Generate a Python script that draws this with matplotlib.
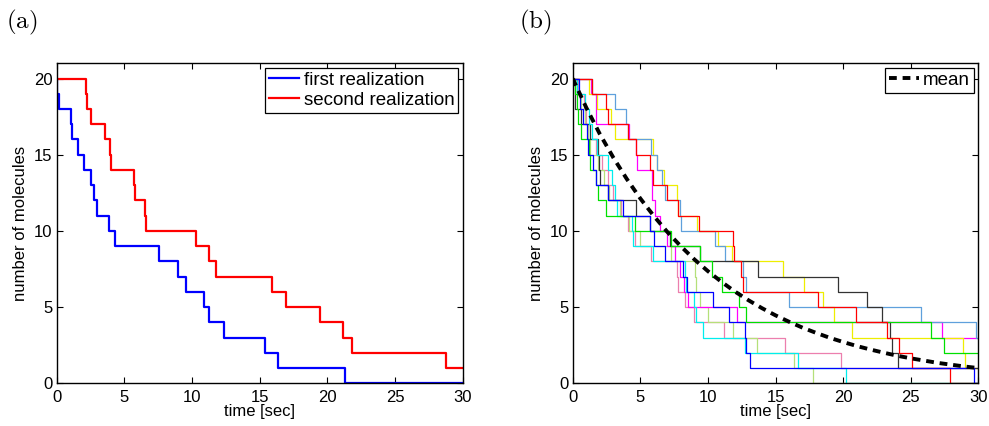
import matplotlib
matplotlib.use("Agg")
import matplotlib.pyplot as plt

plt.rcParams['font.family'] = ['Liberation Sans', 'DejaVu Sans']
plt.rcParams['mathtext.fontset'] = 'cm'

T_END = 30
N0 = 20

# ---- panel (a): jump times (each jump = one molecule lost)
first_realization = [0.02, 0.17, 1.03, 1.16, 1.60, 2.04, 2.51, 2.78, 3.00, 3.87,
                     4.29, 7.54, 8.94, 9.56, 10.86, 11.26, 12.36, 15.39, 16.38, 21.30]
second_realization = [2.17, 2.22, 2.51, 3.55, 3.97, 4.01, 5.71, 5.81, 6.55, 6.63,
                      10.32, 11.26, 11.80, 15.89, 16.95, 19.48, 21.16, 21.82, 28.74]

# ---- panel (b): ten realizations (jump times)
pink_b = [0.40, 0.80, 1.00, 1.30, 1.70, 2.20, 2.60, 3.00, 3.60, 4.10,
          4.60, 5.79, 7.70, 7.80, 8.30, 9.00, 11.21, 15.70, 19.85]
lightgreen_b = [0.30, 0.60, 0.90, 1.10, 1.30, 1.90, 2.30, 2.70, 3.50, 4.20,
                5.00, 7.30, 9.05, 9.10, 9.40, 10.00, 11.88, 13.60, 16.35, 17.80]
magenta_b = [1.33, 1.70, 1.72, 4.20, 4.70, 4.75, 5.84, 5.86, 6.09, 6.46,
             7.00, 7.60, 7.94, 8.20, 8.50, 12.18, 27.28]
yellow_b = [1.20, 1.78, 2.81, 3.13, 5.97, 6.21, 6.75, 7.70, 7.76, 9.17,
            10.77, 11.76, 15.53, 17.13, 18.50, 19.33, 20.68, 28.84, 29.04]
lightblue_b = [1.40, 3.13, 3.95, 4.10, 5.77, 6.21, 6.58, 6.83, 7.94, 8.00,
               10.52, 11.27, 12.60, 12.82, 16.00, 25.76, 29.80]
black_b = [0.17, 0.18, 0.60, 1.28, 1.90, 1.95, 2.00, 2.60, 4.68, 5.72,
           7.20, 9.42, 13.73, 19.60, 21.74, 22.90, 23.47, 23.60, 24.04]
cyan_b = [0.30, 0.91, 1.20, 1.40, 1.80, 2.60, 2.90, 3.10, 3.30, 4.40,
          4.44, 5.97, 8.30, 8.40, 9.00, 9.15, 9.66, 12.74, 16.70, 20.24]
green_b = [0.20, 0.30, 0.40, 0.60, 1.20, 1.30, 1.70, 1.90, 2.47, 4.60,
           7.30, 9.42, 10.28, 11.02, 12.33, 12.82, 26.50, 27.43]
red_b = [1.45, 2.44, 2.59, 4.12, 4.68, 5.72, 5.92, 7.00, 7.81, 9.37,
         11.88, 11.90, 12.43, 12.57, 18.17, 20.96, 23.22, 24.10, 25.07, 27.88]
blue_b = [0.50, 0.55, 0.74, 1.08, 1.10, 1.53, 1.73, 2.64, 3.75, 5.72,
          6.04, 6.83, 8.18, 8.48, 10.35, 11.58, 12.74, 12.80, 13.11, 29.70]

realizations_b = [pink_b, lightgreen_b, magenta_b, yellow_b, lightblue_b,
                  black_b, cyan_b, green_b, red_b, blue_b]
colors_b = ['#ec7fae', '#b5e07a', '#ff00ff', '#eeee00', '#5fa0dc',
            '#333333', '#00eeee', '#00e000', '#ff0000', '#0000ff']

# mean curve values
mean_t = list(range(0, 31))
mean_n = [20.0, 18.10, 16.37, 14.82, 13.41, 12.13, 10.98, 9.93, 8.99, 8.13, 7.36,
          6.66, 6.02, 5.45, 4.93, 4.46, 4.04, 3.65, 3.31, 2.99, 2.71,
          2.45, 2.22, 2.01, 1.81, 1.64, 1.49, 1.34, 1.22, 1.10, 1.00]

x_ticks = [0, 5, 10, 15, 20, 25, 30]
y_ticks = [0, 5, 10, 15, 20]


def steps(jumps):
    xs = [0.0] + list(jumps) + [T_END]
    ys = [N0 - i for i in range(len(jumps) + 1)]
    ys = ys + [ys[-1]]
    return xs, ys


fig = plt.figure(figsize=(9.89, 4.26), dpi=100)
W, H = 989, 426
axA = fig.add_axes([56.7 / W, 1 - 383.3 / H, 406 / W, 320 / H])
axB = fig.add_axes([572.7 / W, 1 - 383.3 / H, 405.6 / W, 320 / H])

FS = 12
LFS = 13.5
for ax in (axA, axB):
    ax.set_xlim(0, 30)
    ax.set_ylim(0, 21)
    ax.set_xticks(x_ticks)
    ax.set_yticks(y_ticks)
    ax.tick_params(direction='in', top=True, right=True, length=4, width=0.8,
                   labelsize=FS)
    ax.tick_params(axis='x', pad=5)
    ax.tick_params(axis='y', pad=3)
    for s in ax.spines.values():
        s.set_linewidth(1.0)
    ax.set_xlabel('time [sec]', fontsize=FS, labelpad=-1)
    ax.set_ylabel('number of molecules', fontsize=FS, labelpad=4)

xs, ys = steps(first_realization)
axA.step(xs, ys, where='post', color='#0000ff', lw=1.6, label='first realization')
xs, ys = steps(second_realization)
axA.step(xs, ys, where='post', color='#ff0000', lw=1.6, label='second realization')
legA = axA.legend(loc='upper right', fontsize=LFS, frameon=True, fancybox=False,
                  edgecolor='black', framealpha=1, borderaxespad=0.25,
                  handlelength=1.6, handletextpad=0.25, labelspacing=0.15,
                  borderpad=0.2)
legA.get_frame().set_linewidth(0.9)

for jumps, c in zip(realizations_b, colors_b):
    xs, ys = steps(jumps)
    axB.step(xs, ys, where='post', color=c, lw=0.9, clip_on=True)
axB.plot(mean_t, mean_n, color='black', lw=2.8, linestyle=(0, (2.0, 1.5)),
         label='mean')
legB = axB.legend(loc='upper right', fontsize=LFS, frameon=True, fancybox=False,
                  edgecolor='black', framealpha=1, borderaxespad=0.25,
                  handlelength=1.6, handletextpad=0.2, borderpad=0.2)
legB.get_frame().set_linewidth(0.9)

fig.text(22 / W, 1 - 22 / H, r'$\mathrm{(a)}$', fontsize=18, ha='center', va='center')
fig.text(535 / W, 1 - 22 / H, r'$\mathrm{(b)}$', fontsize=18, ha='center', va='center')

fig.savefig('out.png', dpi=100)
